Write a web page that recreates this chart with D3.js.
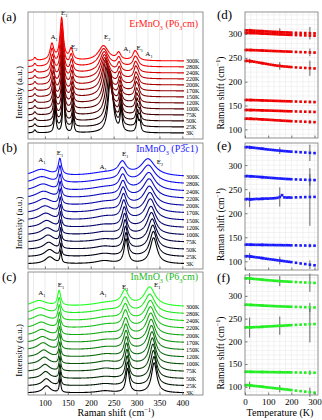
<!DOCTYPE html>
<html>
<head>
<meta charset="utf-8">
<script src="https://cdnjs.cloudflare.com/ajax/libs/d3/7.8.5/d3.min.js"></script>
<style>
body { margin: 0; background: #fff; }
svg text { font-family: "Liberation Serif", "DejaVu Serif", serif; }
</style>
</head>
<body>
<div id="chart"></div>
<script>
// temperatures of the stacked spectra, bottom to top
const specTemps = [3, 25, 50, 75, 100, 120, 150, 170, 200, 220, 240, 280, 300];
// temperatures of the fitted mode positions (right column)
const fitTemps = [3, 10, 20, 25, 30, 40, 50, 60, 70, 75, 80, 90, 100, 110, 120, 130, 140, 150, 160, 170, 180, 190, 200, 220, 240, 260, 280, 300];

// ErMnO3 mode positions (cm-1), one list per mode
const erModes = [
    [122.3, 122.6, 122.1, 122.4, 122.0, 121.8, 121.9, 121.3, 121.2, 121.0, 120.8, 120.5, 120.3, 119.9, 119.7, 119.2, 119.0, 118.8, 118.3, 118.1, 117.8, 117.6, 117.2, 116.8, 116.5, 116.0, 115.6, 115.2],
    [140.6, 140.8, 140.5, 140.7, 140.4, 140.5, 140.2, 140.1, 139.9, 140.0, 139.8, 139.6, 139.5, 139.3, 139.2, 139.0, 138.9, 138.7, 138.6, 138.3, 138.2, 138.0, 137.9, 137.6, 137.3, 137.1, 136.8, 136.5],
    [161.6, 161.8, 161.5, 161.7, 161.4, 161.3, 161.2, 161.0, 160.9, 160.8, 160.6, 160.5, 160.3, 160.1, 160.0, 159.8, 159.7, 159.5, 159.3, 159.2, 159.0, 158.9, 158.7, 158.4, 158.1, 157.8, 157.5, 157.2],
    [243.5, 243.8, 243.2, 243.0, 242.6, 241.8, 240.9, 240.0, 239.2, 238.8, 238.3, 237.5, 236.6, 235.7, 235.0, 234.2, 233.5, 233.0, 232.4, 231.9, 231.5, 231.0, 230.6, 229.9, 229.3, 228.8, 228.2, 227.7],
    [266.3, 266.5, 266.2, 266.4, 266.1, 265.9, 265.8, 265.5, 265.4, 265.3, 265.1, 264.9, 264.7, 264.5, 264.3, 264.1, 263.9, 263.8, 263.5, 263.3, 263.2, 263.0, 262.8, 262.4, 262.0, 261.7, 261.3, 261.0],
    [302.0, 302.3, 301.9, 302.1, 301.8, 301.6, 301.5, 301.2, 301.0, 300.9, 300.7, 300.5, 300.2, 300.0, 299.8, 299.5, 299.3, 299.1, 298.9, 298.6, 298.4, 298.2, 298.0, 297.6, 297.2, 296.9, 296.5, 296.2],
    [307.4, 307.6, 307.2, 307.3, 307.0, 306.8, 306.5, 306.3, 306.0, 305.9, 305.6, 305.4, 305.1, 304.9, 304.6, 304.4, 304.1, 303.9, 303.6, 303.4, 303.2, 303.0, 302.8, 302.5, 302.2, 301.9, 301.6, 301.3]
];
// InMnO3 (P-3c1) mode positions
const inTrigModes = [
    [110.5, 110.8, 110.2, 110.0, 109.6, 109.0, 108.3, 107.8, 107.0, 106.8, 106.3, 105.5, 104.9, 104.2, 103.6, 103.0, 102.2, 101.6, 101.0, 100.3, 99.6, 99.0, 98.4, 97.0, 95.6, 94.4, 93.0, 91.8],
    [134.6, 134.8, 134.5, 134.7, 134.4, 134.5, 134.3, 134.4, 134.2, 134.3, 134.1, 134.2, 134.0, 133.9, 134.0, 133.8, 133.7, 133.8, 133.6, 133.5, 133.6, 133.4, 133.3, 133.2, 133.0, 132.9, 132.7, 132.6],
    [229.0, 229.6, 228.7, 229.2, 229.0, 229.4, 229.8, 229.5, 230.0, 229.8, 230.2, 230.5, 230.4, 230.8, 231.0, 231.4, 232.0, 233.8, 237.5, 233.0, 232.6, 232.8, 232.5, 233.0, 233.3, 233.6, 233.8, 234.0],
    [277.0, 277.3, 276.8, 276.9, 276.6, 276.3, 275.9, 275.6, 275.2, 275.0, 274.8, 274.4, 274.0, 273.6, 273.3, 272.9, 272.5, 272.2, 271.9, 271.5, 271.2, 271.0, 270.7, 270.3, 269.9, 269.6, 269.2, 268.9],
    [337.2, 337.6, 337.0, 336.8, 336.5, 336.0, 335.4, 334.9, 334.3, 334.1, 333.7, 333.1, 332.5, 332.0, 331.5, 331.0, 330.5, 330.1, 329.6, 329.2, 328.8, 328.4, 328.0, 327.4, 326.8, 326.2, 325.6, 325.0]
];
// InMnO3 (P63cm) mode positions
const inHexModes = [
    [103.5, 103.9, 103.2, 103.0, 102.6, 102.0, 101.5, 101.0, 100.4, 100.2, 99.8, 99.1, 98.6, 98.0, 97.4, 96.9, 96.3, 95.8, 95.2, 94.6, 94.1, 93.5, 92.9, 91.7, 90.5, 89.4, 88.2, 87.0],
    [133.0, 133.3, 132.9, 133.1, 132.8, 132.9, 132.7, 132.8, 132.6, 132.7, 132.5, 132.6, 132.4, 132.3, 132.4, 132.2, 132.1, 132.2, 132.0, 131.9, 132.0, 131.8, 131.7, 131.6, 131.4, 131.3, 131.1, 131.0],
    [230.6, 231.2, 230.3, 230.8, 230.9, 231.3, 231.6, 231.4, 232.0, 231.8, 232.3, 232.6, 232.9, 233.2, 233.4, 233.8, 234.1, 234.5, 234.3, 234.8, 235.1, 235.4, 235.6, 236.2, 236.7, 237.1, 237.6, 238.0],
    [280.4, 280.7, 280.2, 280.3, 280.0, 279.8, 279.5, 279.3, 279.0, 278.9, 278.7, 278.4, 278.2, 277.9, 277.7, 277.4, 277.2, 277.0, 276.8, 276.6, 276.4, 276.3, 276.1, 275.8, 275.5, 275.2, 274.9, 274.6],
    [338.4, 338.8, 338.2, 338.0, 337.7, 337.3, 336.8, 336.4, 335.9, 335.7, 335.3, 334.9, 334.5, 334.1, 333.7, 333.3, 332.9, 332.6, 332.2, 331.9, 331.6, 331.3, 331.0, 330.5, 330.0, 329.5, 329.0, 328.6]
];

// error bars: [mode, temperature, half length in cm-1]
const erErrors = [[6, 20, 4], [6, 150, 8], [6, 280, 13], [4, 280, 8], [3, 20, 5], [3, 150, 8], [3, 280, 16], [2, 280, 3], [1, 20, 2], [1, 150, 2], [1, 280, 3], [0, 20, 2], [0, 150, 2], [0, 280, 4]];
const inTrigErrors = [[4, 20, 4], [4, 150, 7], [4, 280, 17], [3, 280, 12], [2, 20, 16], [2, 150, 20], [2, 280, 60], [1, 280, 4], [0, 20, 7], [0, 150, 8], [0, 280, 9]];
const inHexErrors = [[4, 20, 12], [4, 150, 11], [4, 280, 20], [3, 280, 10], [2, 20, 22], [2, 150, 20], [2, 280, 40], [1, 280, 5], [1, 150, 3], [0, 20, 8], [0, 150, 8], [0, 280, 10]];

// peak heights (a.u.) per spectrum, rows follow specTemps, columns follow the modes
const erHeights = [
    [24, 50, 17, 58, 22, 16, 10],
    [23, 50, 17, 55, 21, 15, 10],
    [22, 49, 16, 51, 20, 15, 9],
    [22, 48, 16, 47, 18, 14, 9],
    [21, 48, 15, 43, 17, 13, 8],
    [20, 47, 15, 39, 15, 12, 7],
    [19, 46, 14, 35, 14, 12, 7],
    [19, 45, 13, 31, 12, 11, 6],
    [18, 45, 13, 27, 11, 10, 5],
    [18, 44, 12, 24, 10, 10, 5],
    [17, 44, 12, 21, 9, 9, 4],
    [17, 43, 11, 18, 8, 8, 4],
    [16, 42, 11, 15, 7, 8, 3]
];
const inTrigHeights = [
    [7, 12, 3, 24, 26],
    [7, 12, 3, 23, 25],
    [7, 13, 3, 22, 24],
    [7, 13, 3, 21, 23],
    [7, 13, 3, 20, 22],
    [7, 14, 3, 19, 21],
    [7, 14, 4, 18, 21],
    [7, 14, 4, 17, 20],
    [7, 15, 4, 16, 19],
    [7, 15, 4, 15, 19],
    [7, 15, 4, 14, 18],
    [7, 16, 4, 13, 18],
    [7, 16, 4, 12, 17]
];
const inHexHeights = [
    [7, 14, 2, 24, 30],
    [7, 14, 2, 23, 29],
    [7, 14, 2, 22, 28],
    [7, 14, 3, 21, 27],
    [7, 14, 3, 20, 26],
    [7, 14, 3, 19, 25],
    [7, 15, 3, 18, 24],
    [6, 15, 3, 17, 23],
    [6, 15, 3, 16, 22],
    [6, 15, 4, 16, 21],
    [6, 15, 4, 15, 20],
    [6, 15, 4, 14, 19],
    [6, 15, 4, 14, 19]
];
// peak full widths at 3K (cm-1) and broadening factor per spectrum
const erWidths = [4.5, 4, 4, 12, 5, 5, 5];
const inTrigWidths = [24, 4, 45, 10, 18];
const inHexWidths = [20, 4, 40, 9, 14];
const erBroadening = [1, 1.05, 1.1, 1.18, 1.27, 1.35, 1.47, 1.56, 1.7, 1.8, 1.9, 2.1, 2.2];
const inBroadening = [1, 1.05, 1.1, 1.17, 1.25, 1.32, 1.42, 1.5, 1.62, 1.7, 1.8, 1.95, 2.05];

// mode labels: [letter, index, shift, height in a.u.]
const erLabels = [["A", "1", 120, 100], ["E", "1", 142, 124], ["E", "2", 164, 90], ["E", "2", 236, 100], ["A", "1", 279, 88], ["E", "1", 307, 89], ["A", "1", 327, 83]];
const inTrigLabels = [["A", "1", 93, 107], ["E", "1", 133, 114], ["A", "1", 227, 100], ["E", "1", 275, 113], ["E", "2", 351, 105]];
const inHexLabels = [["A", "1", 93, 100], ["E", "1", 135, 108], ["A", "1", 227, 100], ["E", "1", 275, 106], ["E", "1", 345, 108]];

const shiftTicks = [100, 150, 200, 250, 300, 350, 400];
const modeTicks = [100, 150, 200, 250, 300];
const tempTicks = [0, 100, 200, 300];

const W = 322, H = 420;
const svg = d3.select("#chart").append("svg")
    .attr("width", W)
    .attr("height", H);

const xShift = d3.scaleLinear().domain([63, 445]).range([28, 203]);
const xTemp = d3.scaleLinear().domain([0, 315]).range([245, 318]);
const sampleShift = d3.range(63, 404, 0.5);

const rows = [
    {y0: 12, y1: 139, tag: "(a)", rtag: "(d)", ry0: 12, ry1: 138,
        title: ["ErMnO", "3", " (P6", "3", "cm)"], titleY: 27, color: "#ff0000", ink: "#ff1a1a", dot: "#ee0000",
        modes: erModes, heights: erHeights, widths: erWidths, broad: erBroadening, labels: erLabels,
        errors: erErrors, base: 6, step: 6, extra: [[78, 3, 6]]},
    {y0: 143, y1: 269, tag: "(b)", rtag: "(e)", ry0: 143, ry1: 270,
        title: ["InMnO", "3", " (P3\u0305c1)"], titleY: 152, color: "#1010ff", ink: "#1a1aff", dot: "#1a1aff",
        modes: inTrigModes, heights: inTrigHeights, widths: inTrigWidths, broad: inBroadening, labels: inTrigLabels,
        errors: inTrigErrors, base: 5, step: 7.25, extra: []},
    {y0: 272, y1: 395, tag: "(c)", rtag: "(f)", ry0: 275, ry1: 395,
        title: ["InMnO", "3", " (P6", "3", "cm)"], titleY: 280, color: "#22ff22", ink: "#22bb22", dot: "#22ee22",
        modes: inHexModes, heights: inHexHeights, widths: inHexWidths, broad: inBroadening, labels: inHexLabels,
        errors: inHexErrors, base: 2, step: 7.17, extra: []}
];

function spectrum(row, i) {
    const ti = fitTemps.indexOf(specTemps[i]);
    const h = row.heights[i];
    return sampleShift.map(x => {
        let v = row.base + i * row.step;
        row.modes.forEach((m, k) => {
            const u = (x - m[ti]) / (row.widths[k] * row.broad[i] / 2);
            v += h[k] / (1 + u * u);
        });
        row.extra.forEach(p => {
            const u = (x - p[0]) / (p[2] / 2);
            v += p[1] / (1 + u * u);
        });
        return [x, v];
    });
}

function subText(g, parts, size) {
    // alternate normal text and subscripts
    parts.forEach((p, k) => {
        g.append("tspan")
            .text(p)
            .attr("font-size", k % 2 ? size * 0.62 : size)
            .attr("dy", k % 2 ? size * 0.25 : (k > 0 ? -size * 0.25 : 0));
    });
}

function axisTitle(sel, size) {
    sel.append("tspan").text("Raman shift (cm");
    sel.append("tspan").text("\u22121").attr("font-size", size * 0.65).attr("dy", -size * 0.4);
    sel.append("tspan").text(")").attr("dy", size * 0.4);
}

rows.forEach((row, r) => {
    const y = d3.scaleLinear().domain([0, row.y1 - row.y0]).range([row.y1, row.y0]);
    const g = svg.append("g");

    // vertical grid
    g.append("g").selectAll("line")
        .data(d3.range(75, 445, 25))
        .join("line")
        .attr("x1", d => xShift(d)).attr("x2", d => xShift(d))
        .attr("y1", row.y0).attr("y2", row.y1)
        .attr("stroke", "#dedede").attr("stroke-width", 0.6);

    // spectra
    const colorOf = d3.interpolateRgb("#000000", row.color);
    const line = d3.line().x(d => xShift(d[0])).y(d => y(d[1]));
    specTemps.forEach((t, i) => {
        g.append("path")
            .attr("d", line(spectrum(row, i)))
            .attr("fill", "none")
            .attr("stroke", colorOf(i / (specTemps.length - 1)))
            .attr("stroke-width", 1.1);
        g.append("text")
            .attr("x", 186)
            .attr("y", y(row.base + i * row.step) + 2)
            .attr("font-size", 6)
            .text(t + "K");
    });

    // mode labels
    row.labels.forEach(l => {
        const t = g.append("text")
            .attr("x", xShift(l[2]))
            .attr("y", y(l[3]))
            .attr("text-anchor", "middle");
        subText(t, [l[0], l[1]], 7);
    });

    // title
    const title = g.append("text")
        .attr("x", 198).attr("y", row.titleY)
        .attr("text-anchor", "end")
        .attr("fill", row.ink);
    subText(title, row.title, 10);

    // frame and axis
    g.append("rect")
        .attr("x", 28).attr("y", row.y0)
        .attr("width", 175).attr("height", row.y1 - row.y0)
        .attr("fill", "none").attr("stroke", "#777").attr("stroke-width", 0.8);
    const ax = g.append("g")
        .attr("transform", "translate(0," + row.y1 + ")")
        .call(d3.axisBottom(xShift).tickValues(shiftTicks).tickSize(-2.5).tickPadding(5)
            .tickFormat(r === 2 ? d3.format("d") : ""));
    ax.select(".domain").remove();
    ax.selectAll("line").attr("stroke", "#777");
    ax.selectAll("text").attr("font-size", 8.5).attr("font-family", "Liberation Serif");

    g.append("text")
        .attr("transform", "translate(22," + ((row.y0 + row.y1) / 2 + 17) + ") rotate(-90)")
        .attr("text-anchor", "middle")
        .attr("font-size", 9)
        .text("Intensity (a.u.)");
    g.append("text")
        .attr("x", 2).attr("y", row.y0 + 9)
        .attr("font-size", 13)
        .text(row.tag);

    // right column: mode positions vs temperature
    const yMode = d3.scaleLinear().domain([82, 346]).range([row.ry1, row.ry0]);
    const rg = svg.append("g");
    rg.append("g").selectAll("line")
        .data(d3.range(90, 346, 10))
        .join("line")
        .attr("x1", 245).attr("x2", 318)
        .attr("y1", d => yMode(d)).attr("y2", d => yMode(d))
        .attr("stroke", "#e6e6e6").attr("stroke-width", 0.5);
    rg.append("g").selectAll("line")
        .data(d3.range(25, 315, 25))
        .join("line")
        .attr("x1", d => xTemp(d)).attr("x2", d => xTemp(d))
        .attr("y1", row.ry0).attr("y2", row.ry1)
        .attr("stroke", "#e6e6e6").attr("stroke-width", 0.5);

    row.errors.forEach(e => {
        const v = row.modes[e[0]][fitTemps.indexOf(e[1])];
        rg.append("line")
            .attr("x1", xTemp(e[1])).attr("x2", xTemp(e[1]))
            .attr("y1", yMode(v - e[2])).attr("y2", yMode(v + e[2]))
            .attr("stroke", "#555").attr("stroke-width", 0.9);
    });
    row.modes.forEach(m => {
        rg.append("g").selectAll("rect")
            .data(m)
            .join("rect")
            .attr("x", (d, k) => xTemp(fitTemps[k]) - 1.3)
            .attr("y", d => yMode(d) - 1.3)
            .attr("width", 2.6).attr("height", 2.6)
            .attr("fill", row.dot);
    });

    rg.append("rect")
        .attr("x", 245).attr("y", row.ry0)
        .attr("width", 73).attr("height", row.ry1 - row.ry0)
        .attr("fill", "none").attr("stroke", "#777").attr("stroke-width", 0.8);
    const ay = rg.append("g")
        .attr("transform", "translate(245,0)")
        .call(d3.axisLeft(yMode).tickValues(modeTicks).tickSize(-2.5).tickPadding(3));
    ay.select(".domain").remove();
    ay.selectAll("line").attr("stroke", "#777");
    ay.selectAll("text").attr("font-size", 9).attr("font-family", "Liberation Serif");
    const at = rg.append("g")
        .attr("transform", "translate(0," + row.ry1 + ")")
        .call(d3.axisBottom(xTemp).tickValues(tempTicks).tickSize(-2.5).tickPadding(4)
            .tickFormat(r === 2 ? d3.format("d") : ""));
    at.select(".domain").remove();
    at.selectAll("line").attr("stroke", "#777");
    at.selectAll("text").attr("font-size", 9).attr("font-family", "Liberation Serif");

    const yl = rg.append("text")
        .attr("transform", "translate(224," + ((row.ry0 + row.ry1) / 2 + 18) + ") rotate(-90)")
        .attr("text-anchor", "middle")
        .attr("font-size", 9.5);
    axisTitle(yl, 9.5);
    rg.append("text")
        .attr("x", 217).attr("y", row.ry0 + 7)
        .attr("font-size", 13)
        .text(row.rtag);
});

// axis titles
const xt = svg.append("text")
    .attr("x", 116).attr("y", 416)
    .attr("text-anchor", "middle")
    .attr("font-size", 10);
axisTitle(xt, 10);
svg.append("text")
    .attr("x", 280).attr("y", 416)
    .attr("text-anchor", "middle")
    .attr("font-size", 10)
    .text("Temperature (K)");
</script>
</body>
</html>
